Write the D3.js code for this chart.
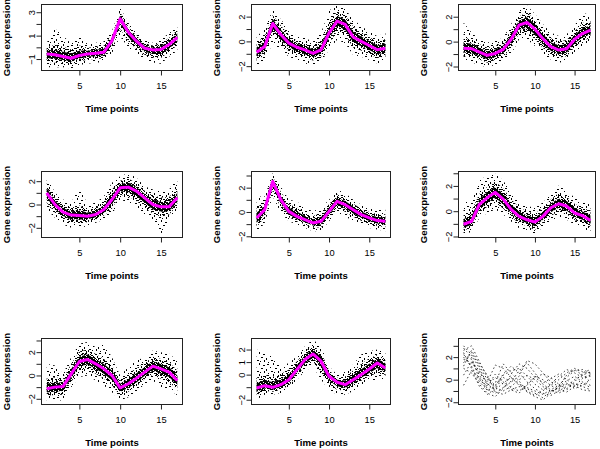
<!DOCTYPE html>
<html><head><meta charset="utf-8">
<script src="https://cdn.jsdelivr.net/npm/d3@7"></script>
<style>body{margin:0;background:#fff}svg{display:block;font-family:"Liberation Sans",Arial,Helvetica,sans-serif}</style>
</head><body>
<svg id="c" width="600" height="449"></svg>
<script>
// ---------- DATA ----------
const timePoints = [1,2,3,4,5,6,7,8,9,10,11,12,13,14,15,16,17];
const xTickValues = [5,10,15];
const xLabel = "Time points";
const yLabel = "Gene expression";

// cluster mean profiles (magenta), clusters 1-8
const meanProfiles = [
  [-0.56,-0.64,-0.79,-0.93,-0.70,-0.56,-0.50,-0.42,0.58,2.43,1.29,0.52,-0.08,-0.22,-0.19,0.24,0.86],
  [-0.88,-0.41,1.45,0.55,-0.14,-0.47,-0.68,-0.96,-0.68,0.68,1.64,1.37,0.36,0.00,-0.33,-0.68,-0.55],
  [-0.54,-0.57,-0.84,-1.10,-0.95,-0.62,0.19,1.32,1.54,1.00,0.24,-0.41,-0.68,-0.57,0.19,0.65,0.92],
  [1.00,0.00,-0.66,-0.91,-0.94,-1.00,-0.86,-0.43,0.43,1.43,1.49,1.14,0.57,0.00,-0.20,-0.20,0.57],
  [-0.49,0.19,2.51,1.01,0.05,-0.36,-0.63,-0.90,-0.77,0.05,0.87,0.60,0.19,-0.22,-0.49,-0.71,-0.77],
  [-1.03,-0.81,0.54,1.08,1.49,0.95,0.14,-0.41,-0.68,-0.86,-0.41,0.27,0.59,0.41,-0.14,-0.35,-0.73],
  [-1.14,-1.00,-0.94,0.14,1.20,1.37,1.00,0.57,0.00,-1.06,-0.71,-0.23,0.29,0.80,0.57,0.29,-0.43],
  [-1.07,-0.88,-1.01,-0.80,-0.40,0.40,1.20,1.65,1.07,-0.13,-0.61,-0.80,-0.40,0.00,0.45,0.93,0.53]
];
// upper / lower extent of the member genes in each cluster
const upperProfiles = [
  [0.40,1.60,1.00,0.30,0.90,0.30,0.40,0.50,1.40,3.40,2.10,1.30,0.60,0.40,0.70,1.20,1.90],
  [0.41,0.96,2.60,1.78,0.96,0.41,0.27,0.00,0.68,2.47,3.00,2.60,1.78,1.23,0.82,0.41,0.68],
  [1.54,0.73,0.19,-0.08,0.05,0.32,1.41,2.49,2.89,2.22,1.41,0.73,0.46,0.59,1.27,2.35,2.08],
  [2.57,1.00,0.43,0.14,1.57,0.00,0.14,0.71,1.86,2.43,2.71,2.29,1.57,1.29,1.14,1.29,2.43],
  [1.28,1.28,3.20,2.10,1.01,0.87,0.33,0.05,0.33,1.01,1.83,1.56,1.01,0.60,0.33,0.19,0.19],
  [0.68,0.81,2.43,2.84,2.97,2.43,1.49,0.81,0.41,0.27,0.68,1.35,2.03,1.62,1.08,0.68,0.54],
  [1.00,0.86,0.14,1.57,2.71,2.86,2.43,2.71,1.57,0.00,0.71,1.29,1.57,2.14,2.00,1.86,1.29],
  [2.00,1.73,1.47,0.67,0.93,1.47,2.27,2.80,2.27,0.67,0.00,0.27,0.80,1.60,1.87,2.00,1.73]
];
const lowerProfiles = [
  [-1.70,-1.70,-1.70,-1.80,-1.50,-1.40,-1.30,-1.30,-0.50,0.90,0.00,-0.60,-1.00,-1.30,-1.40,-0.80,-0.30],
  [-2.05,-1.50,-0.14,-0.68,-1.23,-1.50,-1.78,-1.92,-1.64,-0.68,0.14,-0.14,-1.10,-1.23,-1.50,-1.78,-1.64],
  [-1.57,-1.70,-1.84,-2.11,-1.84,-1.57,-1.03,0.19,0.19,-0.35,-1.03,-1.43,-1.70,-1.57,-0.89,-0.35,-0.08],
  [-0.43,-1.14,-1.71,-2.00,-2.00,-1.86,-1.57,-1.29,-0.86,0.43,0.14,-0.29,-0.86,-1.29,-2.57,-1.29,-0.57],
  [-1.72,-0.90,1.28,-0.08,-0.77,-1.04,-1.31,-1.58,-1.58,-0.77,-0.08,-0.36,-0.77,-1.04,-1.31,-1.45,-1.58],
  [-1.89,-1.62,-0.54,-0.14,0.14,-0.27,-0.81,-1.35,-1.49,-1.89,-1.22,-0.81,-0.41,-0.68,-1.08,-1.35,-1.62],
  [-2.14,-2.14,-2.14,-1.00,-0.14,0.00,-0.43,-0.86,-1.43,-2.14,-1.86,-1.43,-0.71,-0.43,-1.00,-1.14,-1.71],
  [-2.00,-1.60,-1.60,-1.47,-1.20,-0.40,0.27,0.67,-0.40,-1.20,-1.60,-1.60,-1.33,-0.80,-0.53,-0.40,-0.40]
];
// cluster 9: individual gene profiles (no mean drawn)
const cluster9Profiles = [
  [3.0,2.2,1.0,-0.4,-0.9,-0.3,0.2,-0.5,-0.8,-1.2,-1.6,-1.0,-0.8,-0.4,-0.6,-0.3,-0.7],
  [2.6,3.0,1.6,0.2,-0.5,0.4,0.8,1.0,0.3,-0.4,-0.9,-0.5,0.0,0.6,1.0,0.7,0.5],
  [2.2,1.8,0.4,-0.8,-1.2,-0.7,-0.2,0.3,1.7,1.4,0.6,-0.2,-0.6,-0.1,0.3,-0.2,-0.5],
  [1.8,1.5,0.6,-0.2,1.3,1.0,0.2,-0.4,-0.7,-1.0,-1.3,-0.9,-0.5,0.2,0.8,0.9,0.6],
  [1.5,2.4,1.2,0.0,-0.7,-1.0,-0.6,0.0,0.4,0.0,-0.6,-1.1,-0.7,-0.3,-0.8,-0.5,0.0],
  [1.0,0.6,-0.4,-1.2,-1.5,-0.8,0.5,1.4,1.0,0.2,-0.3,0.1,0.5,0.0,-0.5,-0.9,-1.0],
  [0.4,1.6,0.8,-0.5,0.2,-0.4,-0.9,-0.6,-1.0,-1.4,-1.0,-0.4,0.3,0.9,0.6,0.2,0.4],
  [-0.5,0.8,0.2,-1.0,-0.6,0.5,1.2,0.6,-0.2,-0.8,-1.2,-1.4,-1.0,-0.6,0.0,0.4,0.7],
  [2.8,2.0,0.0,-0.6,0.5,-0.2,-0.7,-1.0,-0.5,0.3,0.0,-0.5,-0.9,-1.1,-0.6,0.1,0.3],
  [2.0,1.2,-0.2,-0.9,-0.3,1.4,0.6,-0.1,-1.1,-1.5,-1.8,-1.2,-0.6,0.4,0.9,0.4,-0.2],
  [1.2,2.6,1.4,0.4,-1.1,-1.3,-0.9,-1.2,-0.4,0.2,0.5,0.2,-0.4,-0.9,-0.3,-0.6,-0.9],
  [2.4,1.0,-0.6,-1.3,-0.8,0.2,-0.2,0.8,1.5,0.6,-0.4,-0.9,-1.2,-0.8,-0.2,0.6,0.9]
];
// y-axis ticks and which of them carry labels, per panel
const yTickValues = [
  [-1,0,1,2,3],[-2,-1,0,1,2],[-2,-1,0,1,2],
  [-2,-1,0,1,2],[-2,-1,0,1,2,3],[-2,-1,0,1,2,3],
  [-2,-1,0,1,2,3],[-2,-1,0,1,2],[-2,-1,0,1,2,3]
];
const yTickLabels = [
  [-1,1,3],[-2,0,2],[-2,0,2],
  [-2,0,2],[-2,0,2],[-2,0,2],
  [-2,0,2],[-2,0,1,2],[-2,0,2]
];

// ---------- LAYOUT ----------
const colLeft = [41.5, 251.5, 458.5];
const colWidth = [141, 139, 137];
const rowTop = [4.5, 171.5, 338.5];
const rowHeight = [66, 66, 66];
const yDomains = [
  [-1.98,3.66],[-2.35,2.98],[-2.32,2.98],
  [-2.83,2.83],[-2.1,3.33],[-2.08,3.14],
  [-2.49,3.17],[-2.38,2.88],[-2.2,3.65]
];
const xDomain = [0.36, 17.64];

const svg = d3.select('#c');
const defs = svg.append('defs');

function makePattern(id, w, h, bg, fg, rects) {
  const p = defs.append('pattern').attr('id', id).attr('patternUnits','userSpaceOnUse')
    .attr('width', w).attr('height', h);
  if (bg) p.append('rect').attr('width', w).attr('height', h).attr('fill', bg);
  rects.forEach(r => p.append('rect').attr('x', r[0]).attr('y', r[1]).attr('width', r[2]).attr('height', r[3]).attr('fill', fg));
}
makePattern('sparse', 14, 11, null, '#000',
  [[1,1,2,1],[7,0,1,2],[11,2,2,1],[4,4,1,1],[9,5,2,1],[0,6,1,2],[5,8,2,1],[12,8,1,2],[2,10,1,1],[8,9,1,1]]);
makePattern('medium', 12, 10, null, '#000',
  [[0,0,2,1],[4,0,1,2],[8,1,2,1],[11,0,1,1],[2,2,1,2],[6,2,2,1],[10,3,2,1],[0,4,2,1],[4,4,1,2],[7,5,2,1],
   [1,6,1,2],[5,7,2,1],[9,6,1,2],[11,8,1,1],[3,8,2,1],[0,9,1,1],[7,9,2,1],[10,9,1,1],[6,4,1,1],[2,5,1,1]]);
makePattern('dense', 5, 4, '#000', '#fff', [[1,0,1,1],[3,2,1,1],[0,3,1,1]]);

for (let i = 0; i < 9; i++) {
  const r = Math.floor(i / 3), c = i % 3;
  const L = colLeft[c], T = rowTop[r], W = colWidth[c], H = rowHeight[r];
  const g = svg.append('g');
  const x = d3.scaleLinear().domain(xDomain).range([L, L + W]);
  const y = d3.scaleLinear().domain(yDomains[i]).range([T + H, T]);

  defs.append('clipPath').attr('id', 'clip' + i).append('rect')
    .attr('x', L).attr('y', T).attr('width', W).attr('height', H);
  const plot = g.append('g').attr('clip-path', `url(#clip${i})`);

  if (i < 8) {
    const mean = meanProfiles[i], hi = upperProfiles[i], lo = lowerProfiles[i];
    const rows = timePoints.map((t, k) => ({t, m: mean[k], hi: hi[k], lo: lo[k]}));
    const band = (f, cap) => d3.area()
      .x(d => x(d.t))
      .y0(d => y(d.m - Math.min((d.m - d.lo) * f, cap)))
      .y1(d => y(d.m + Math.min((d.hi - d.m) * f, cap)));
    plot.append('path').datum(rows).attr('d', band(1, 99)).attr('fill', 'url(#sparse)');
    plot.append('path').datum(rows).attr('d', band(0.6, 0.85)).attr('fill', 'url(#medium)');
    plot.append('path').datum(rows).attr('d', band(0.32, 0.42)).attr('fill', 'url(#dense)');
    const line = d3.line().x((d, k) => x(timePoints[k])).y(d => y(d));
    plot.append('path').datum(mean).attr('d', line)
      .attr('fill', 'none').attr('stroke', '#ff00ff').attr('stroke-width', 3)
      .attr('stroke-linejoin', 'round');
  } else {
    const line = d3.line().x((d, k) => x(timePoints[k])).y(d => y(d));
    cluster9Profiles.forEach(p => {
      plot.append('path').datum(p).attr('d', line).attr('fill', 'none')
        .attr('stroke', '#000').attr('stroke-width', 0.75).attr('stroke-dasharray', '1.5,2.5');
    });
  }

  // box
  g.append('rect').attr('x', L).attr('y', T).attr('width', W).attr('height', H)
    .attr('fill', 'none').attr('stroke', '#222').attr('stroke-width', 1);

  // x axis
  const xa = g.append('g').attr('transform', `translate(0,${T + H})`)
    .call(d3.axisBottom(x).tickValues(xTickValues).tickSize(5).tickPadding(7).tickFormat(d3.format('d')));
  xa.select('.domain').remove();
  xa.selectAll('text').attr('font-size', 9.3).attr('fill', '#000').attr('font-family', null);
  xa.selectAll('line').attr('stroke', '#222');

  // y axis
  const labs = yTickLabels[i];
  const ya = g.append('g').attr('transform', `translate(${L},0)`)
    .call(d3.axisLeft(y).tickValues(yTickValues[i]).tickSize(5)
      .tickFormat(d => labs.includes(d) ? (d < 0 ? '\u2212' + Math.abs(d) : String(d)) : ''));
  ya.select('.domain').remove();
  ya.selectAll('line').attr('stroke', '#222');
  ya.selectAll('text').attr('font-size', 9.3).attr('fill', '#000').attr('font-family', null)
    .attr('text-anchor', 'middle').attr('transform', 'rotate(-90)')
    .attr('x', 0).attr('y', -10).attr('dy', '0.35em');

  // axis titles
  g.append('text').attr('x', L + W / 2).attr('y', T + H + 38).attr('text-anchor', 'middle')
    .attr('dominant-baseline', 'central').attr('font-size', 9.6).attr('font-weight', 'bold').text(xLabel);
  g.append('text').attr('transform', `translate(${L - 35},${T + H / 2}) rotate(-90)`)
    .attr('text-anchor', 'middle').attr('dominant-baseline', 'central')
    .attr('font-size', 9.6).attr('font-weight', 'bold').text(yLabel);
}
</script>
</body></html>
